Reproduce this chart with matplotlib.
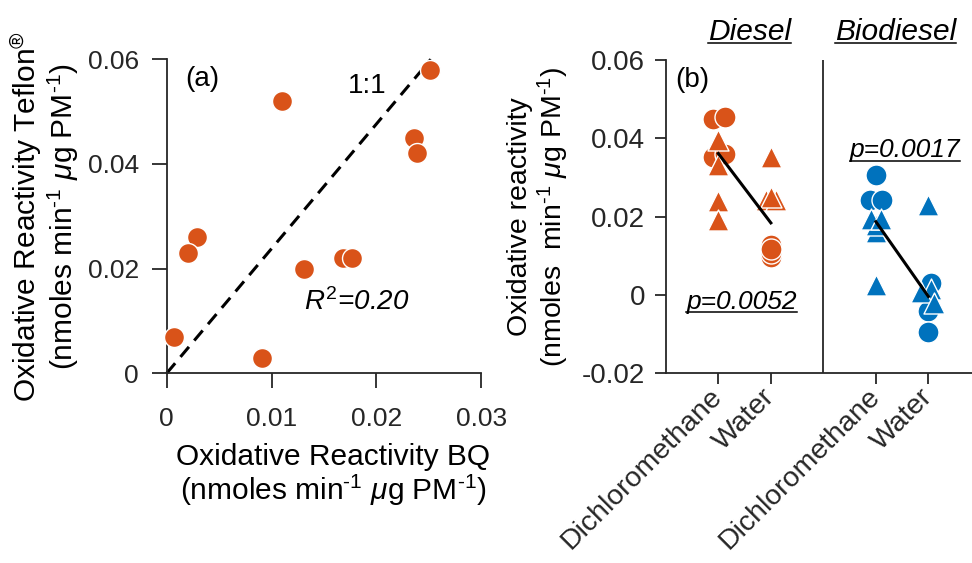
import matplotlib
matplotlib.use("Agg")
import matplotlib.pyplot as plt
import matplotlib.transforms as mtransforms
from matplotlib.lines import Line2D

plt.rcParams['font.family'] = ['Liberation Sans', 'DejaVu Sans']
plt.rcParams['mathtext.fontset'] = 'custom'
plt.rcParams['mathtext.rm'] = 'Liberation Sans'
plt.rcParams['mathtext.it'] = 'Liberation Sans:italic'
plt.rcParams['mathtext.bf'] = 'Liberation Sans:bold'
plt.rcParams['axes.unicode_minus'] = False

ORANGE = '#D95319'
BLUE = '#0072BD'
GRAY = '#262626'

# ---- panel (a): BQ vs Teflon oxidative reactivity ----
bq = [0.0251, 0.0110, 0.0236, 0.0239, 0.0029, 0.0020, 0.0131, 0.0168, 0.0177, 0.0007, 0.0091]
teflon = [0.0580, 0.0520, 0.0450, 0.0420, 0.0260, 0.0230, 0.0200, 0.0220, 0.0220, 0.0070, 0.0030]
one_to_one_x = [0.0, 0.0252]
one_to_one_y = [0.0, 0.0600]
a_xticks = [0, 0.01, 0.02, 0.03]
a_xticklabels = ['0', '0.01', '0.02', '0.03']
a_yticks = [0, 0.02, 0.04, 0.06]
a_yticklabels = ['0', '0.02', '0.04', '0.06']

# ---- panel (b): extraction solvent comparison ----
categories = ['Dichloromethane', 'Water', 'Dichloromethane', 'Water']
cat_pos = [1, 2, 4, 5]
fuels = ['Diesel', 'Biodiesel']

diesel_dcm_circ = [0.0450, 0.0455, 0.0352, 0.0361]
diesel_dcm_circ_dx = [-0.10, 0.13, -0.10, 0.13]
diesel_dcm_tri = [0.0395, 0.0331, 0.0239, 0.0191]
diesel_dcm_tri_dx = [0, 0, 0, 0]
diesel_wat_circ = [0.0098, 0.0108, 0.0128, 0.0118]
diesel_wat_circ_dx = [0, 0, 0, 0]
diesel_wat_tri = [0.0352, 0.0243, 0.0243, 0.0250]
diesel_wat_tri_dx = [0, -0.10, 0.10, 0]

bio_dcm_circ = [0.0306, 0.0242, 0.0242]
bio_dcm_circ_dx = [0, -0.12, 0.12]
bio_dcm_tri = [0.0160, 0.0178, 0.0195, 0.0195, 0.0025]
bio_dcm_tri_dx = [0, 0, -0.09, 0.09, 0]
bio_wat_circ = [0.0030, -0.0040, -0.0094]
bio_wat_circ_dx = [0.05, 0, 0]
bio_wat_tri = [0.0229, 0.0015, 0.0008, -0.0020]
bio_wat_tri_dx = [0, 0.05, -0.15, 0.10]

diesel_mean = [0.0361, 0.0184]
bio_mean = [0.0187, -0.0004]
p_diesel = 'p=0.0052'
p_bio = 'p=0.0017'
b_yticks = [-0.02, 0, 0.02, 0.04, 0.06]
b_yticklabels = ['-0.02', '0', '0.02', '0.04', '0.06']

UNITS = '(nmoles%smin$^{\\text{-1}}$ $\\mu$g PM$^{\\text{-1}}$)'

fig = plt.figure(figsize=(9.72, 5.63), dpi=100)


def style_axes(ax, ticklen, labelsize, xpad, ypad):
    for side in ['top', 'right']:
        ax.spines[side].set_visible(False)
    for side in ['left', 'bottom']:
        ax.spines[side].set_color(GRAY)
        ax.spines[side].set_linewidth(1.3)
    ax.tick_params(direction='out', length=ticklen, width=1.3, color=GRAY,
                   labelcolor=GRAY, labelsize=labelsize)
    ax.tick_params(axis='x', pad=xpad)
    ax.tick_params(axis='y', pad=ypad)


# panel (a)
ax1 = fig.add_axes([0.1715, 0.337, 0.3235, 0.5577])
ax1.scatter(bq, teflon, s=207, c=ORANGE, edgecolors='white', linewidths=1.0,
            clip_on=False, zorder=3)
ax1.plot(one_to_one_x, one_to_one_y, color='k', lw=2.2, dashes=(4.3, 2.7),
         clip_on=False, zorder=2)
ax1.set_xlim(0, 0.03)
ax1.set_ylim(0, 0.06)
ax1.set_xticks(a_xticks)
ax1.set_xticklabels(a_xticklabels)
ax1.set_yticks(a_yticks)
ax1.set_yticklabels(a_yticklabels)
style_axes(ax1, 11, 19, 13, 9)
ax1.set_xlabel('Oxidative Reactivity BQ\n' + UNITS % ' ',
               fontsize=21.5, linespacing=1.05)
ax1.xaxis.set_label_coords(0.53, -0.222, transform=ax1.transAxes)
ax1.set_ylabel('Oxidative Reactivity Teflon$^{\\circledR}$\n' + UNITS % ' ',
               fontsize=21.5, labelpad=5, linespacing=1.05)
ax1.text(0.00341, 0.0548, '(a)', fontsize=20, ha='center', va='baseline')
ax1.text(0.01915, 0.0535, '1:1', fontsize=20, ha='center', va='baseline')
ax1.text(0.01808, 0.0120, '$R^{\\mathit{2}}$=0.20', fontsize=20, style='italic',
         ha='center', va='baseline')

# panel (b)
ax2 = fig.add_axes([0.685, 0.337, 0.315, 0.5565])
groups = [
    (1, diesel_dcm_circ, diesel_dcm_circ_dx, 'o', ORANGE),
    (2, diesel_wat_circ, diesel_wat_circ_dx, 'o', ORANGE),
    (4, bio_dcm_circ, bio_dcm_circ_dx, 'o', BLUE),
    (5, bio_wat_circ, bio_wat_circ_dx, 'o', BLUE),
    (1, diesel_dcm_tri, diesel_dcm_tri_dx, '^', ORANGE),
    (2, diesel_wat_tri, diesel_wat_tri_dx, '^', ORANGE),
    (4, bio_dcm_tri, bio_dcm_tri_dx, '^', BLUE),
    (5, bio_wat_tri, bio_wat_tri_dx, '^', BLUE),
]
for z, (x0, ys, dxs, mk, col) in enumerate(groups):
    xs = [x0 + d for d in dxs]
    ax2.scatter(xs, ys, s=229, marker=mk, c=col, edgecolors='white',
                linewidths=1.0, zorder=3 + z * 0.1)

ax2.plot(cat_pos[:2], diesel_mean, color='k', lw=2.2, zorder=5)
ax2.plot(cat_pos[2:], bio_mean, color='k', lw=2.2, zorder=5)
ax2.axvline(3, color=GRAY, lw=1.3)

ax2.set_xlim(0, 5.83)
ax2.set_ylim(-0.02, 0.06)
ax2.set_yticks(b_yticks)
ax2.set_yticklabels(b_yticklabels)
ax2.set_xticks(cat_pos)
ax2.set_xticklabels(categories, rotation=45, ha='right', va='center',
                    rotation_mode='anchor')
style_axes(ax2, 8, 20, 6, 7)
for lab in ax2.get_xticklabels():
    lab.set_fontsize(20.5)
ax2.set_ylabel('Oxidative reactivity\n' + UNITS % '  ',
               fontsize=20.5, labelpad=8, linespacing=1.1)

ax2.text(0.5, 0.0530, '(b)', fontsize=20, ha='center', va='baseline')

trans = mtransforms.blended_transform_factory(ax2.transData, ax2.transAxes)
underlined = [
    ax2.text(1.44, -0.0035, p_diesel, fontsize=19, style='italic',
             ha='center', va='baseline'),
    ax2.text(4.55, 0.0352, p_bio, fontsize=19, style='italic',
             ha='center', va='baseline'),
    ax2.text(1.6, 1.065, fuels[0], fontsize=21.5, style='italic',
             ha='center', va='baseline', transform=trans),
    ax2.text(4.38, 1.065, fuels[1], fontsize=21.5, style='italic',
             ha='center', va='baseline', transform=trans),
]

# underline the italic labels (mathtext has no \underline)
renderer = fig.canvas.get_renderer()
for t in underlined:
    bb = t.get_window_extent(renderer)
    base = t.get_transform().transform(t.get_position())[1]
    y_line = base - 3.5
    fig.add_artist(Line2D([bb.x0, bb.x1], [y_line, y_line], color='k', lw=1.1,
                          transform=mtransforms.IdentityTransform()))

fig.savefig('out.png', dpi=100)
